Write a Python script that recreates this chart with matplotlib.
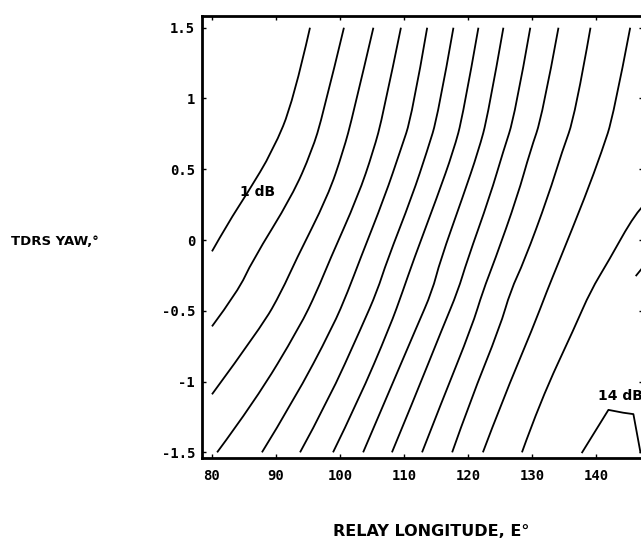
import matplotlib
matplotlib.use("Agg")
import matplotlib.pyplot as plt
from matplotlib.path import Path
from matplotlib.patches import PathPatch

plt.rcParams["axes.unicode_minus"] = False

# yaw rows (deg) at which the full-height contours were sampled
YAW_ROWS = [1.5, 0.88, 0.63, 0.31, -0.15, -0.36, -0.61, -1.14, -1.5]

# 1-3 dB contours leave through the left edge (longitude 80)
LON_1DB = [95.3, 92.7, 89.5, 85.5, 82.5, 80.0]
YAW_1DB = [1.5, 0.98, 0.63, 0.33, 0.12, -0.08]
LON_2DB = [100.6, 97.3, 95.6, 92.5, 86.25, 84.1, 80.0]
YAW_2DB = [1.5, 0.88, 0.63, 0.31, -0.15, -0.36, -0.61]
LON_3DB = [105.2, 102.0, 100.5, 98.1, 93.0, 90.9, 87.8, 80.0]
YAW_3DB = [1.5, 0.88, 0.63, 0.31, -0.15, -0.36, -0.61, -1.09]

# 4-12 dB contours run from top to bottom, longitude at each YAW_ROWS value
LON_FULL = [
    [109.5, 106.7, 105.2, 102.8, 98.3, 96.4, 93.75, 86.7, 80.8],
    [113.6, 111.25, 109.4, 107.0, 103.0, 101.25, 98.9, 92.7, 87.8],
    [117.7, 115.3, 113.6, 111.25, 107.3, 105.8, 103.4, 98.1, 93.75],
    [121.6, 119.2, 117.7, 115.2, 111.4, 109.8, 107.8, 102.8, 98.9],
    [125.5, 123.1, 121.6, 119.2, 115.6, 114.4, 112.0, 107.0, 103.6],
    [129.7, 127.3, 125.5, 123.4, 119.8, 118.4, 116.1, 111.4, 108.1],
    [134.1, 131.6, 129.7, 127.7, 124.1, 122.3, 120.6, 115.9, 112.8],
    [139.1, 136.7, 134.7, 132.5, 128.75, 126.6, 125.0, 120.3, 117.5],
    [145.3, 142.7, 140.9, 138.3, 134.2, 132.3, 130.2, 125.3, 122.3],
]

# 13 dB enters from the right side
LON_13DB = [147.7, 146.1, 141.9, 139.1, 136.7, 131.25, 128.4]
YAW_13DB = [0.26, 0.19, -0.15, -0.36, -0.61, -1.14, -1.5]

# 14 dB: closed arc on the bottom edge plus a stub at the right side
LON_14DB = [137.8, 141.9, 144.2, 145.8, 146.9]
YAW_14DB = [-1.5, -1.2, -1.22, -1.23, -1.5]
LON_14DB_STUB = [146.25, 147.5]
YAW_14DB_STUB = [-0.25, -0.18]

X_TICKS = [80, 90, 100, 110, 120, 130, 140]
Y_TICKS = [-1.5, -1, -0.5, 0, 0.5, 1, 1.5]


def smooth_contour(ax, xs, ys, **kw):
    # quadratic b-spline through the sampled points so the plotter-style
    # curves come out without corners
    verts = [(xs[0], ys[0])]
    codes = [Path.MOVETO]
    n = len(xs)
    if n == 2:
        verts.append((xs[1], ys[1]))
        codes.append(Path.LINETO)
    else:
        for i in range(1, n - 1):
            if i < n - 2:
                end = ((xs[i] + xs[i + 1]) / 2, (ys[i] + ys[i + 1]) / 2)
            else:
                end = (xs[i + 1], ys[i + 1])
            verts += [(xs[i], ys[i]), end]
            codes += [Path.CURVE3, Path.CURVE3]
    patch = PathPatch(Path(verts, codes), facecolor="none", **kw)
    ax.add_patch(patch)


fig = plt.figure(figsize=(6.41, 5.46), dpi=100)
ax = fig.add_axes([202 / 641, 88 / 546, 441 / 641, 441.6 / 546])

line_kw = dict(edgecolor="black", lw=1.3, joinstyle="round", capstyle="butt")
smooth_contour(ax, LON_1DB, YAW_1DB, **line_kw)
smooth_contour(ax, LON_2DB, YAW_2DB, **line_kw)
smooth_contour(ax, LON_3DB, YAW_3DB, **line_kw)
for lons in LON_FULL:
    smooth_contour(ax, lons, YAW_ROWS, **line_kw)
smooth_contour(ax, LON_13DB, YAW_13DB, **line_kw)
ax.plot(LON_14DB, YAW_14DB, color="black", lw=1.3, solid_joinstyle="round")
ax.plot(LON_14DB_STUB, YAW_14DB_STUB, color="black", lw=1.3)

label_kw = dict(fontsize=10, fontweight="bold", family="DejaVu Sans", ha="left", va="center")
ax.text(84.4, 0.34, "1 dB", **label_kw)
ax.text(140.2, -1.105, "14 dB", **label_kw)

ax.set_xlim(78.44, 147.3)
ax.set_ylim(-1.54, 1.58)
ax.set_xticks(X_TICKS)
ax.set_yticks(Y_TICKS)
ax.set_yticklabels(["%g" % v for v in Y_TICKS])

for sp in ax.spines.values():
    sp.set_linewidth(2.0)

ax.tick_params(direction="in", length=3, width=1, top=True, right=True)
ax.tick_params(axis="x", pad=8)
ax.tick_params(axis="y", pad=5)
for lbl in ax.get_xticklabels() + ax.get_yticklabels():
    lbl.set_family("DejaVu Sans Mono")
    lbl.set_fontweight("bold")
    lbl.set_fontsize(10)

ax.set_xlabel("RELAY LONGITUDE, E°", fontsize=11.5, fontweight="bold")
ax.xaxis.set_label_coords(0.519, -0.149)
ax.set_ylabel("TDRS YAW,°", rotation=0, fontsize=9.5, fontweight="bold",
              ha="center", va="center")
ax.yaxis.set_label_coords(-0.333, 0.491)

fig.savefig("out.png", dpi=100)
plt.close(fig)
